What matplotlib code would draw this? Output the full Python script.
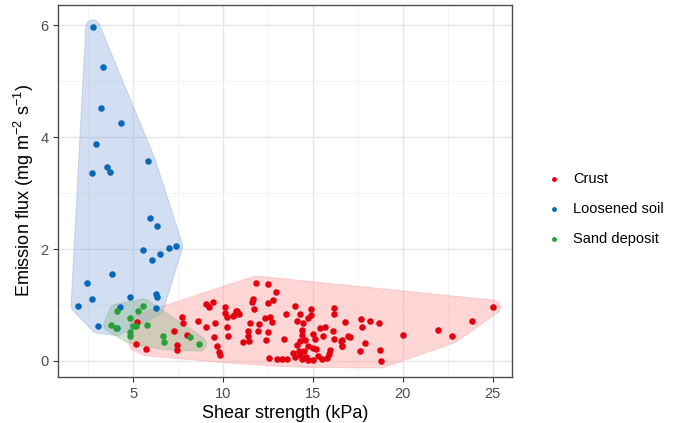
import numpy as np
import matplotlib
matplotlib.use('Agg')
import matplotlib.pyplot as plt

plt.rcParams['font.family'] = ['Liberation Sans', 'DejaVu Sans']
plt.rcParams['mathtext.fontset'] = 'custom'
plt.rcParams['mathtext.rm'] = 'Liberation Sans'
plt.rcParams['mathtext.default'] = 'rm'

# shear strength (kPa) and emission flux (mg m-2 s-1) per soil type
crust_x = [5.20, 5.18, 5.70, 7.28, 7.74, 7.80, 7.46, 7.46, 8.0, 8.61, 9.04, 9.57, 9.5, 9.65,
           9.8, 9.83, 9.04, 9.22, 9.46, 10.1, 10.1, 10.2, 10.6, 10.2, 10.26, 10.76,
           11.83, 12.5, 12.94, 11.65, 11.6, 12.5, 12.8, 11.72, 10.57, 10.7, 10.9, 14.0,
           14.87, 16.2, 16.2, 13.5, 14.3, 14.9, 12.33, 12.6, 12.74, 14.13, 14.46, 14.74,
           16.78, 11.5, 11.98, 11.4, 11.93, 12.48, 11.37, 12.39, 11.13, 11.44, 13.39,
           14.4, 14.4, 14.56, 15.0, 15.1, 15.4, 15.7, 15.57, 16.1, 16.17, 16.56, 16.6,
           16.96, 14.74, 14.98, 15.2, 15.94, 12.57, 13.0, 13.26, 13.57, 13.9, 14.0,
           14.28, 14.37, 14.6, 14.74, 15.0, 15.3, 15.5, 15.76, 15.9, 14.24, 14.5, 14.13,
           14.3, 17.7, 18.2, 18.67, 17.74, 17.06, 16.6, 16.6, 17.9, 17.6, 18.74, 18.8,
           20.0, 21.98, 22.72, 23.83, 25.04]
crust_y = [0.69, 0.30, 0.22, 0.54, 0.78, 0.67, 0.29, 0.19, 0.47, 0.71, 0.60, 0.68, 0.42, 0.26,
           0.16, 0.10, 1.01, 0.97, 1.05, 0.97, 0.86, 0.79, 0.82, 0.60, 0.45, 0.89,
           1.39, 1.37, 1.23, 1.11, 1.05, 1.04, 1.08, 0.93, 0.80, 0.90, 0.84, 0.98,
           0.92, 0.95, 0.83, 0.84, 0.84, 0.82, 0.76, 0.78, 0.69, 0.71, 0.67, 0.76,
           0.69, 0.67, 0.66, 0.53, 0.53, 0.51, 0.45, 0.37, 0.33, 0.36, 0.39,
           0.55, 0.46, 0.37, 0.48, 0.39, 0.58, 0.60, 0.44, 0.53, 0.40, 0.36, 0.26,
           0.45, 0.26, 0.23, 0.21, 0.20, 0.05, 0.03, 0.03, 0.03, 0.14, 0.07,
           0.11, 0.03, 0.07, 0.01, 0.02, 0.08, 0.03, 0.05, 0.13, 0.17, 0.17, 0.29,
           0.35, 0.74, 0.72, 0.67, 0.60, 0.43, 0.37, 0.27, 0.32, 0.18, 0.20, 0.0,
           0.47, 0.55, 0.44, 0.72, 0.96]

loose_x = [2.76, 3.32, 3.22, 4.33, 2.93, 5.85, 3.57, 3.72, 2.70, 5.94, 6.33, 5.54, 6.52, 7.0,
           7.37, 6.04, 3.80, 2.46, 2.70, 1.94, 4.83, 6.26, 6.33, 4.28, 6.30, 3.04, 4.09]
loose_y = [5.97, 5.26, 4.52, 4.26, 3.87, 3.57, 3.46, 3.38, 3.35, 2.56, 2.41, 1.98, 1.91, 2.02,
           2.05, 1.80, 1.56, 1.39, 1.11, 0.99, 1.14, 1.20, 1.15, 0.96, 0.94, 0.62, 0.58]

sand_x = [4.09, 5.26, 5.57, 4.85, 3.76, 5.0, 5.15, 5.80, 4.04, 4.85, 4.85, 6.69, 6.70, 8.15, 8.69]
sand_y = [0.89, 0.90, 0.98, 0.76, 0.65, 0.62, 0.63, 0.65, 0.59, 0.51, 0.44, 0.45, 0.33, 0.43, 0.30]

groups = ['Crust', 'Loosened soil', 'Sand deposit']
colors = ['#E3000F', '#0868B8', '#27A03A']
fills = ['#FF9A9A', '#8FAEDC', '#8FB98F']


def hull(pts):
    pts = sorted(set(map(tuple, pts)))
    def cross(o, a, b):
        return (a[0]-o[0])*(b[1]-o[1]) - (a[1]-o[1])*(b[0]-o[0])
    lower, upper = [], []
    for p in pts:
        while len(lower) >= 2 and cross(lower[-2], lower[-1], p) <= 0:
            lower.pop()
        lower.append(p)
    for p in reversed(pts):
        while len(upper) >= 2 and cross(upper[-2], upper[-1], p) <= 0:
            upper.pop()
        upper.append(p)
    return np.array(lower[:-1] + upper[:-1])


fig, ax = plt.subplots(figsize=(6.76, 4.23), dpi=100)
fig.subplots_adjust(left=0.086, right=0.757, top=0.988, bottom=0.109)
ax.set_xlim(0.83, 26.06)
ax.set_ylim(-0.286, 6.36)

# px per data unit, used to expand hulls evenly on screen
bb = ax.get_window_extent()
sx = bb.width / (26.06 - 0.83)
sy = bb.height / (6.36 + 0.286)
t = np.linspace(0, 2*np.pi, 24, endpoint=False)
r = 7

data = [(crust_x, crust_y), (loose_x, loose_y), (sand_x, sand_y)]
for (xs, ys), fc in zip(data, fills):
    px = np.column_stack([np.array(xs)*sx, np.array(ys)*sy])
    ring = (px[:, None, :] + r*np.stack([np.cos(t), np.sin(t)], 1)[None]).reshape(-1, 2)
    h = hull(ring)
    ax.fill(h[:, 0]/sx, h[:, 1]/sy, facecolor=fc, edgecolor=fc, alpha=0.4, lw=0.8, zorder=1)

for (xs, ys), c, g in zip(data, colors, groups):
    ax.scatter(xs, ys, s=22, color=c, label=g, zorder=3, linewidths=0)

ax.set_xticks([5, 10, 15, 20, 25])
ax.set_xticks([2.5, 7.5, 12.5, 17.5, 22.5], minor=True)
ax.set_yticks([0, 2, 4, 6])
ax.set_yticks([1, 3, 5], minor=True)
ax.grid(which='major', color='#E6E6E6', lw=1.0)
ax.grid(which='minor', color='#F2F2F2', lw=0.6)
ax.set_axisbelow(True)
ax.tick_params(which='major', colors='#333333', labelcolor='#4D4D4D', labelsize=10.5, length=3.5)
ax.tick_params(which='minor', length=0)
for s in ax.spines.values():
    s.set_color('#4D4D4D')
    s.set_linewidth(1.0)

ax.set_xlabel('Shear strength (kPa)', fontsize=13, labelpad=3)
ax.set_ylabel('Emission flux (mg m$^{-2}$ s$^{-1}$)', fontsize=13, labelpad=3)

fig.legend(loc='center left', bbox_to_anchor=(0.79, 0.506), frameon=False, fontsize=10.5,
           handletextpad=0.8, labelspacing=1.1, markerscale=0.75, handlelength=1.0)

fig.savefig('out.png', dpi=100)
